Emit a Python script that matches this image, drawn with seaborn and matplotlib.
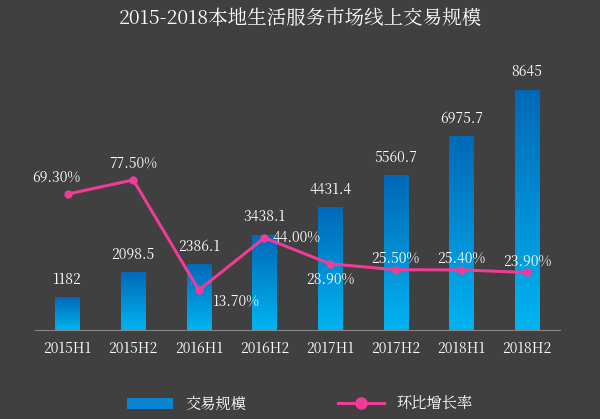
import matplotlib
matplotlib.use("Agg")
import matplotlib.pyplot as plt
from matplotlib import font_manager as fm
import seaborn as sns
import numpy as np
import pandas as pd
from matplotlib.patches import Patch
from matplotlib.lines import Line2D

periods = ["2015H1","2015H2","2016H1","2016H2","2017H1","2017H2","2018H1","2018H2"]
volume = [1182, 2098.5, 2386.1, 3438.1, 4431.4, 5560.7, 6975.7, 8645]
growth = [69.30, 77.50, 13.70, 44.00, 28.90, 25.50, 25.40, 23.90]
vol_labels = ["1182","2098.5","2386.1","3438.1","4431.4","5560.7","6975.7","8645"]

cjk_files = [f for f in fm.findSystemFonts() if "CJK" in f or "cjk" in f.lower()]
for f in cjk_files:
    try:
        fm.fontManager.addfont(f)
    except Exception:
        pass
names = [fm.FontProperties(fname=f).get_name() for f in cjk_files]
fam = [n for n in names if "SC" in n] + names + ["Noto Sans CJK SC", "DejaVu Sans"]
plt.rcParams["font.family"] = "sans-serif"
plt.rcParams["font.sans-serif"] = fam
bg = "#404040"
pink = "#f03c96"

fig = plt.figure(figsize=(6, 4.19), dpi=100, facecolor=bg)
ax = fig.add_axes([0.058, 0.212, 0.875, 0.645])
ax.set_facecolor(bg)
df = pd.DataFrame({"period": periods, "volume": volume})
sns.barplot(data=df, x="period", y="volume", ax=ax, width=0.37, color="#0a84d0", saturation=1)
ax.set_ylim(0, 9712)
ax.set_xlim(-0.5, 7.5)

grad = np.linspace(0, 1, 256).reshape(-1, 1)
cmap = matplotlib.colors.LinearSegmentedColormap.from_list("g", ["#00b4f0", "#0068b8"])
for p in list(ax.patches):
    x0, w, h = p.get_x(), p.get_width(), p.get_height()
    im = ax.imshow(grad, extent=[x0, x0 + w, 0, h], origin="lower", cmap=cmap, aspect="auto", zorder=2)
    im.set_clip_path(p)
    p.set_alpha(0)
for i, (v, t) in enumerate(zip(volume, vol_labels)):
    ax.text(i, v + 330, t, ha="center", va="bottom", color="white", fontsize=10)

for s in ["top", "left", "right"]:
    ax.spines[s].set_visible(False)
ax.spines["bottom"].set_color("#888888")
ax.set_yticks([])
ax.set_xlabel(""); ax.set_ylabel("")
ax.tick_params(axis="x", colors="white", labelsize=10, length=0, pad=8)

ax2 = ax.twinx()
sns.lineplot(x=np.arange(len(growth)), y=growth, ax=ax2, color=pink, lw=2.2,
             marker="o", markersize=6, markeredgewidth=0)
ax2.set_ylim(-9.5, 147)
ax2.axis("off")
offs = [(-8, 12, "center"), (0, 12, "center"), (10, -8, "left"), (6, 0, "left"),
        (0, -11, "center"), (0, 8, "center"), (0, 8, "center"), (0, 8, "center")]
for i, (g, (dx, dy, ha)) in enumerate(zip(growth, offs)):
    ax2.annotate(f"{g:.2f}%", (i, g), xytext=(dx, dy), textcoords="offset points",
                 ha=ha, va="center", color="white", fontsize=10)

fig.text(0.5, 0.955, "2015-2018本地生活服务市场线上交易规模", ha="center", va="center",
         color="white", fontsize=14)
handles = [Patch(facecolor="#0a84d0"), Line2D([], [], color=pink, lw=2.2, marker="o", markersize=8)]
fig.legend(handles, ["交易规模", "环比增长率"], loc="center", bbox_to_anchor=(0.5, 0.035),
           ncol=2, frameon=False, labelcolor="white", fontsize=11, columnspacing=6,
           handlelength=3)
fig.savefig("out.png", dpi=100, facecolor=bg)
